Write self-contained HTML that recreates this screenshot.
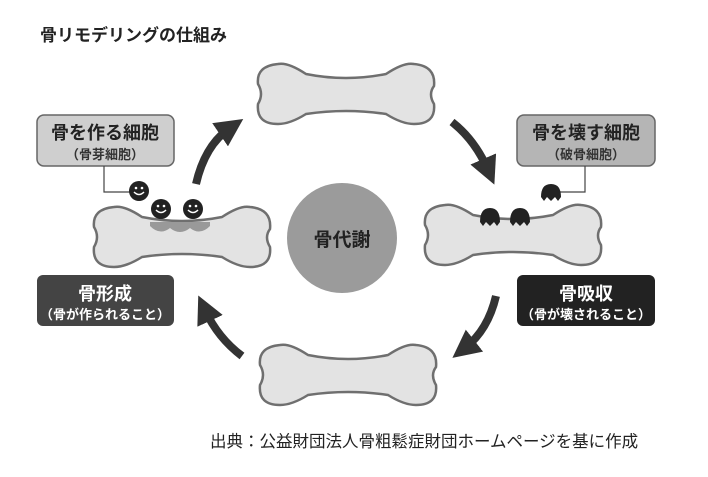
<!DOCTYPE html>
<html><head><meta charset="utf-8"><style>
body{margin:0;background:#fff;width:708px;height:472px;overflow:hidden;font-family:"Liberation Sans","Noto Sans CJK JP",sans-serif}
</style></head><body>
<svg width="708" height="472" viewBox="0 0 708 472" xmlns="http://www.w3.org/2000/svg" font-family="Liberation Sans, Noto Sans CJK JP, sans-serif">
<defs>
<path id="bone" d="M22,2 Q32,0 50,12 Q90,20 130,12 Q148,0 158,2 Q180,4 178,24 Q172,32 178,42 Q180,62 158,62 Q146,62 130,52 Q90,46 50,52 Q34,62 22,62 Q0,62 2,42 Q8,32 2,22 Q0,4 22,2 Z" fill="#e3e3e3" stroke="#6f6f6f" stroke-width="2.5"/>
<marker id="ah" markerWidth="3.5" markerHeight="3.5" refX="1.5" refY="1.75" orient="auto" markerUnits="strokeWidth"><path d="M0,0 L3.5,1.75 L0,3.5 Z" fill="#333"/></marker>
</defs>
<text x="40" y="41" font-size="17" font-weight="bold" fill="#222">骨リモデリングの仕組み</text>
<use href="#bone" x="256" y="62"/>
<use href="#bone" x="423" y="203"/>
<use href="#bone" x="92" y="205"/>
<use href="#bone" x="258" y="343"/>
<circle cx="342" cy="238" r="55" fill="#9b9b9b"/>
<text x="342" y="246" font-size="19" font-weight="bold" text-anchor="middle" fill="#222">骨代謝</text>
<g fill="none" stroke="#333" stroke-width="8">
<path d="M196,184 Q205,145 230,128" marker-end="url(#ah)"/>
<path d="M452,122 Q475,140 488,170" marker-end="url(#ah)"/>
<path d="M496,296 Q488,330 465,348" marker-end="url(#ah)"/>
<path d="M242,356 Q218,338 205,310" marker-end="url(#ah)"/>
</g>
<rect x="37" y="115" width="137" height="51" rx="7" fill="#cfcfcf" stroke="#666" stroke-width="1.5"/>
<text x="105" y="139" font-size="18" font-weight="bold" text-anchor="middle" fill="#222">骨を作る細胞</text>
<text x="105" y="159" font-size="13" font-weight="bold" text-anchor="middle" fill="#333">（骨芽細胞）</text>
<rect x="517" y="115" width="138" height="51" rx="7" fill="#b5b5b5" stroke="#666" stroke-width="1.5"/>
<text x="586" y="139" font-size="18" font-weight="bold" text-anchor="middle" fill="#222">骨を壊す細胞</text>
<text x="586" y="159" font-size="13" font-weight="bold" text-anchor="middle" fill="#333">（破骨細胞）</text>
<rect x="37" y="275" width="137" height="51" rx="6" fill="#444"/>
<text x="105" y="300" font-size="18" font-weight="bold" text-anchor="middle" fill="#fff">骨形成</text>
<text x="105" y="319" font-size="13" font-weight="bold" text-anchor="middle" fill="#fff">（骨が作られること）</text>
<rect x="517" y="275" width="138" height="51" rx="6" fill="#222"/>
<text x="586" y="300" font-size="18" font-weight="bold" text-anchor="middle" fill="#fff">骨吸収</text>
<text x="586" y="319" font-size="13" font-weight="bold" text-anchor="middle" fill="#fff">（骨が壊されること）</text>
<polyline points="104,166 104,192 130,192" fill="none" stroke="#444" stroke-width="1.2"/>
<polyline points="585,166 585,192 560,192" fill="none" stroke="#444" stroke-width="1.2"/>
<path d="M150,226 Q160,236 170,228 Q180,236 190,228 Q200,236 210,226 L210,222 L150,222 Z" fill="#999"/>
<g fill="#222">
<circle cx="139" cy="191" r="10"/><circle cx="161" cy="209" r="10"/><circle cx="193" cy="209" r="10"/>
</g>
<g fill="none" stroke="#fff" stroke-width="1.5">
<path d="M134,192 Q139,197 144,192"/><path d="M156,210 Q161,215 166,210"/><path d="M188,210 Q193,215 198,210"/>
</g>
<g fill="#fff"><circle cx="136" cy="188" r="1.3"/><circle cx="142" cy="188" r="1.3"/><circle cx="158" cy="206" r="1.3"/><circle cx="164" cy="206" r="1.3"/><circle cx="190" cy="206" r="1.3"/><circle cx="196" cy="206" r="1.3"/></g>
<g fill="#222">
<path d="M480,222 Q480,208 490,208 Q500,208 500,222 L497,226 L494,222 L490,226 L486,222 L483,226 Z"/>
<path d="M510,222 Q510,208 520,208 Q530,208 530,222 L527,226 L524,222 L520,226 L516,222 L513,226 Z"/>
<path d="M541,197 Q541,184 551,184 Q561,184 561,197 L558,201 L555,197 L551,201 L547,197 L544,201 Z"/>
</g>
<text x="210" y="447" font-size="16.5" fill="#222">出典：公益財団法人骨粗鬆症財団ホームページを基に作成</text>
</svg>
</body></html>
